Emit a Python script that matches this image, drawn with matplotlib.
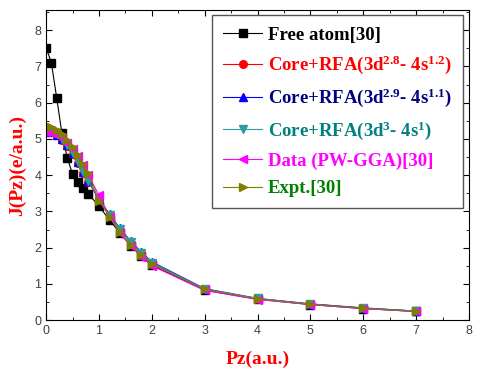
import matplotlib
matplotlib.use("Agg")
import matplotlib.pyplot as plt
from matplotlib.ticker import MultipleLocator

plt.rcParams["mathtext.fontset"] = "custom"
plt.rcParams["mathtext.rm"] = "Liberation Serif:bold"
plt.rcParams["mathtext.it"] = "Liberation Serif:bold"
plt.rcParams["mathtext.bf"] = "Liberation Serif:bold"

# Pz values (a.u.)
pz = [0, 0.1, 0.2, 0.3, 0.4, 0.5, 0.6, 0.7, 0.8, 1.0, 1.2, 1.4, 1.6, 1.8, 2.0, 3, 4, 5, 6, 7]

free_atom = [7.52, 7.1, 6.14, 5.15, 4.47, 4.04, 3.8, 3.64, 3.48, 3.15, 2.76, 2.4, 2.05, 1.78, 1.52, 0.83, 0.58, 0.43, 0.32, 0.24]
rfa_28 = [5.22, 5.18, 5.1, 4.97, 4.8, 4.58, 4.33, 4.07, 3.82, 3.32, 2.88, 2.49, 2.14, 1.84, 1.58, 0.85, 0.59, 0.44, 0.33, 0.25]
rfa_29 = [5.24, 5.2, 5.12, 4.99, 4.82, 4.6, 4.35, 4.1, 3.85, 3.35, 2.92, 2.53, 2.18, 1.88, 1.61, 0.87, 0.6, 0.45, 0.34, 0.25]
rfa_3 = [5.26, 5.21, 5.13, 5.0, 4.83, 4.61, 4.36, 4.1, 3.85, 3.34, 2.9, 2.51, 2.16, 1.86, 1.59, 0.86, 0.6, 0.44, 0.33, 0.25]
pw_gga = [5.2, 5.17, 5.12, 5.03, 4.9, 4.73, 4.52, 4.28, 4.0, 3.45, 2.85, 2.4, 2.05, 1.75, 1.5, 0.82, 0.57, 0.43, 0.32, 0.24]
expt = [5.38, 5.33, 5.25, 5.13, 4.98, 4.78, 4.55, 4.3, 4.05, 3.3, 2.85, 2.42, 2.08, 1.8, 1.55, 0.85, 0.59, 0.44, 0.33, 0.24]

series = [
    (free_atom, "Free atom[30]", "black", "s", "black"),
    (rfa_28, "Core+RFA(3d$^{2.8}$- 4s$^{1.2}$)", "red", "o", "red"),
    (rfa_29, "Core+RFA(3d$^{2.9}$- 4s$^{1.1}$)", "#0000ff", "^", "#000080"),
    (rfa_3, "Core+RFA(3d$^{3}$- 4s$^{1}$)", "#2e9c9c", "v", "#008080"),
    (pw_gga, "Data (PW-GGA)[30]", "#ff00ff", "<", "#ff00ff"),
    (expt, "Expt.[30]", "#808000", ">", "#008000"),
]

fig = plt.figure(figsize=(4.8, 3.78), dpi=100)
ax = fig.add_axes([0.096, 0.153, 0.881, 0.82])

for vals, label, color, marker, _ in series:
    ax.plot(pz, vals, color=color, marker=marker, markersize=5.5, linewidth=0.8, label=label)

ax.set_xlim(0, 8)
ax.set_ylim(0, 8.55)
ax.xaxis.set_major_locator(MultipleLocator(1))
ax.xaxis.set_minor_locator(MultipleLocator(0.5))
ax.yaxis.set_major_locator(MultipleLocator(1))
ax.yaxis.set_minor_locator(MultipleLocator(0.5))
ax.tick_params(which="both", direction="in", top=True, right=True, labelsize=9, labelcolor="#404040")
ax.tick_params(which="major", length=4)
ax.tick_params(which="minor", length=2.5)
for lbl in ax.get_xticklabels() + ax.get_yticklabels():
    lbl.set_family("Liberation Sans")

ax.set_xlabel("Pz(a.u.)", color="red", fontsize=14, fontweight="bold", family="Liberation Serif", labelpad=10)
ax.set_ylabel("J(Pz)(e/a.u.)", color="red", fontsize=14, fontweight="bold", family="Liberation Serif", labelpad=6)

leg = ax.legend(loc="upper right", bbox_to_anchor=(0.986, 0.984), borderaxespad=0, fancybox=False,
                framealpha=1, edgecolor="#555555", labelspacing=0.55, handletextpad=0.3, borderpad=0.6,
                handlelength=2.1, prop={"family": "Liberation Serif", "weight": "bold", "size": 13.5})
leg.get_frame().set_linewidth(1.0)
for txt, s in zip(leg.get_texts(), series):
    txt.set_color(s[4])

fig.savefig("out.png", dpi=100)
